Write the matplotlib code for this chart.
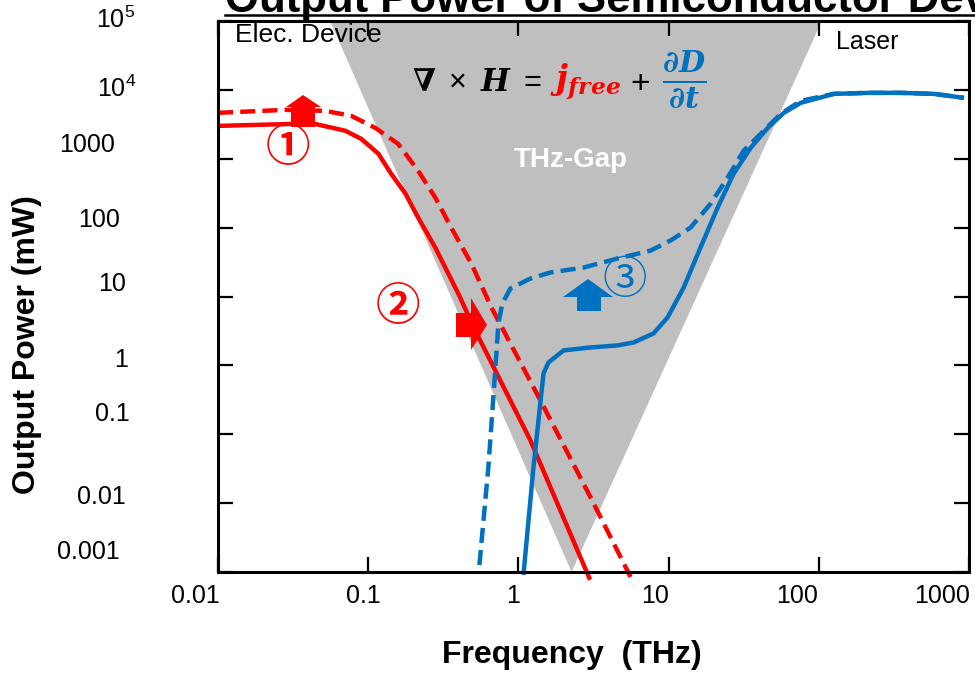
import matplotlib
matplotlib.use("Agg")
import matplotlib.pyplot as plt
from matplotlib.patches import Polygon
from matplotlib.lines import Line2D

plt.rcParams['font.family'] = ['Liberation Sans', 'DejaVu Sans']
plt.rcParams['mathtext.fontset'] = 'dejavuserif'
plt.rcParams['mathtext.default'] = 'regular'

# ---------------- data ----------------
red_solid_f = [0.01, 0.0307, 0.0444, 0.0703, 0.0897, 0.117, 0.142, 0.177, 0.215, 0.28, 0.398, 0.516, 1.2, 3.0]
red_solid_p = [3000, 3200, 3200, 2550, 1950, 1180, 607, 311, 140, 51, 11, 3.2, 0.082, 0.00077]

red_dash_f = [0.01, 0.028, 0.0517, 0.0771, 0.1114, 0.158, 0.215, 0.28, 0.357, 0.486, 0.661, 1.40, 3.02, 5.58]
red_dash_p = [4640, 5130, 4960, 4200, 2810, 1650, 670, 272, 100, 30, 6.93, 0.311, 0.0122, 0.000847]

blue_dash_f = [0.55, 0.631, 0.681, 0.736, 0.782, 0.885, 1.2, 1.63, 2.71, 4.57, 7.59, 10.3, 14.0, 19.05,
               24.7, 31.6, 41.0, 55.8, 75.9, 126, 212, 352, 584, 926]
blue_dash_p = [0.00126, 0.0333, 0.343, 4.06, 7.93, 13.1, 18.2, 22.3, 26.3, 35.6, 46.4, 64.9, 100, 223,
               531, 1306, 2300, 4490, 6930, 8750, 9050, 9050, 8750, 7660]

blue_solid_f = [1.08, 1.26, 1.47, 1.585, 2.0, 3.02, 4.57, 5.85, 7.94, 9.85, 12.6, 16.3, 21.2, 27.1,
                35.2, 45.7, 58.5, 75.9, 126, 212, 352, 584, 926]
blue_solid_p = [0.000906, 0.0333, 0.766, 1.1, 1.65, 1.82, 1.95, 2.15, 2.91, 4.97, 13.5, 51.3, 195, 607,
                1440, 2810, 4640, 6490, 8750, 9050, 9050, 8750, 7660]

# THz-gap triangle (frequency, power)
gap_f = [0.0558, 104.7, 2.26]
gap_p = [1e5, 1e5, 1e-3]

xticks = [0.01, 0.1, 1, 10, 100, 1000]
xtick_labels = ['0.01', '0.1', '1', '10', '100', '1000']
yticks = [1e-3, 1e-2, 1e-1, 1, 10, 100, 1000, 1e4, 1e5]
ytick_labels = ['0.001', '0.01', '0.1', '1', '10', '100', '1000', r'$10^4$', r'$10^5$']

# ---------------- layout (pixels) ----------------
W, H = 975, 673
def fx(x): return x / W
def fy(y): return 1 - y / H

RED = '#FF0000'
BLUE = '#0070C0'
GRAY = '#BFBFBF'

fig = plt.figure(figsize=(9.75, 6.73), dpi=100)
L, R, T, B = 218, 969, 21, 572
ax = fig.add_axes([fx(L), fy(B), (R - L) / W, (B - T) / H])
ax.set_xscale('log')
ax.set_yscale('log')
ax.set_xlim(0.01, 1000)
ax.set_ylim(1e-3, 1e5)

ax.fill(gap_f, gap_p, color=GRAY, lw=0, zorder=1)

lw = 3.2
dash = (0, (3.4, 1.6))
ax.plot(red_solid_f, red_solid_p, color=RED, lw=lw, zorder=3, clip_on=False, solid_capstyle='butt')
ax.plot(red_dash_f, red_dash_p, color=RED, lw=lw, ls=dash, zorder=3, clip_on=False)
ax.plot(blue_solid_f, blue_solid_p, color=BLUE, lw=lw, zorder=3, clip_on=False, solid_capstyle='butt')
ax.plot(blue_dash_f, blue_dash_p, color=BLUE, lw=lw, ls=dash, zorder=3, clip_on=False)

ax.set_xticks(xticks)
ax.set_yticks(yticks)
ax.set_xticklabels([])
ax.set_yticklabels([])
ax.minorticks_off()
ax.tick_params(which='major', direction='in', length=11, width=1.6, top=True, right=True, color='black')
for s in ax.spines.values():
    s.set_linewidth(2.2)
    s.set_zorder(5)

# tick labels (placed as in the reference)
xlab_px = [195, 363, 513, 655, 797, 942]
for t, xp in zip(xtick_labels, xlab_px):
    fig.text(fx(xp), fy(596), t, ha='center', va='center', fontsize=18)
ylab_px = [(120, 552), (126, 497), (130, 414), (128, 360), (126, 284), (120, 220), (115, 145), (136, 89), (135, 20)]
for t, (xp, yp) in zip(ytick_labels, ylab_px):
    fig.text(fx(xp), fy(yp), t, ha='right', va='center', fontsize=18)

fig.text(fx(572), fy(655), 'Frequency  (THz)', ha='center', va='center', fontsize=23, fontweight='bold')
fig.text(fx(27), fy(345), 'Output Power (mW)', ha='center', va='center', rotation=90, fontsize=23, fontweight='bold')

# title (clipped by the top edge) with underline
fig.text(fx(225), fy(12), 'Output Power of Semiconductor Device', ha='left', va='baseline',
         fontsize=31.5, fontweight='bold')
fig.add_artist(Line2D([fx(225), fx(975)], [fy(15), fy(15)], color='black', lw=1.8, transform=fig.transFigure))

fig.text(fx(235), fy(35), 'Elec. Device', ha='left', va='center', fontsize=19, zorder=6)
fig.text(fx(898), fy(42), 'Laser', ha='right', va='center', fontsize=18)
fig.text(fx(571), fy(160), 'THz-Gap', ha='center', va='center', fontsize=20, fontweight='bold', color='white')

# equation
fig.text(fx(541), fy(91), r'$\mathbfit{\nabla}\;\times\;\mathbfit{H}\;=$', ha='right', va='baseline', fontsize=22, color='black')
fig.text(fx(550), fy(91), r'$\mathbfit{j}_{\mathbfit{free}}$', ha='left', va='baseline', fontsize=24, color=RED)
fig.text(fx(640), fy(82), r'$+$', ha='center', va='center', fontsize=24, color='black')
fig.text(fx(684), fy(80), r'$\frac{\mathbfit{\partial D}}{\mathbfit{\partial t}}$', ha='center', va='center', fontsize=31, color=BLUE)

# block arrows (pixel polygons)
def block_poly(pts, color):
    p = Polygon([(fx(x), fy(y)) for x, y in pts], closed=True, transform=fig.transFigure,
                facecolor=color, edgecolor='none', zorder=7)
    fig.add_artist(p)

block_poly([(291, 127), (291, 107), (286, 107), (303, 95), (321, 107), (315, 107), (315, 127)], RED)
block_poly([(456, 313), (471, 313), (471, 298), (487, 325), (471, 350), (471, 337), (456, 337)], RED)
block_poly([(577, 311), (577, 297), (563, 297), (588, 279), (613, 297), (601, 297), (601, 311)], BLUE)

circ_font = ['Noto Sans CJK JP', 'DejaVu Sans']
fig.text(fx(288), fy(148), '①', ha='center', va='center', fontsize=32, color=RED, family=circ_font, fontweight='bold')
fig.text(fx(398), fy(307), '②', ha='center', va='center', fontsize=32, color=RED, family=circ_font, fontweight='bold')
fig.text(fx(625), fy(280), '③', ha='center', va='center', fontsize=32, color=BLUE, family=circ_font)

fig.savefig('out.png', dpi=100)
